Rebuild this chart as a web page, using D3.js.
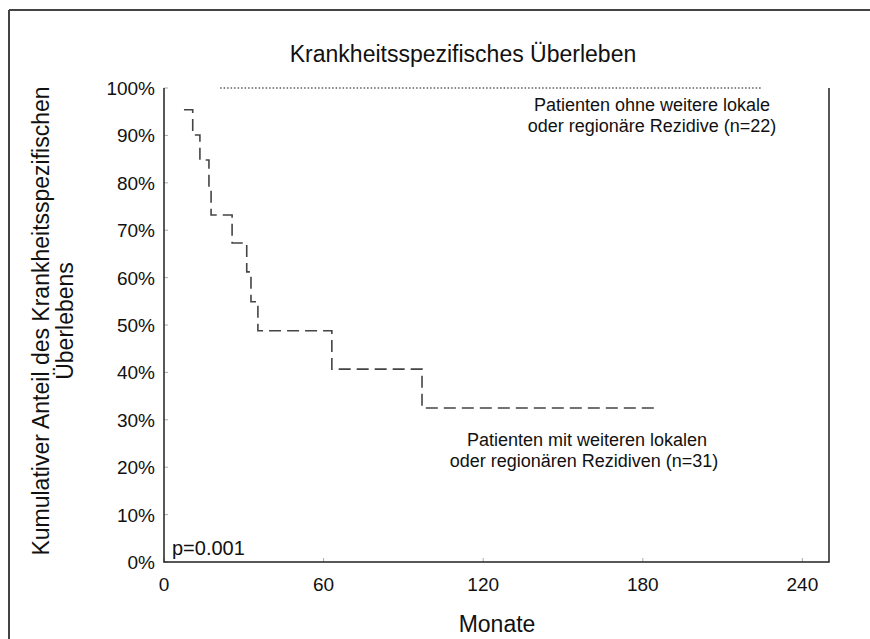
<!DOCTYPE html>
<html>
<head>
<meta charset="UTF-8" />
<title>Krankheitsspezifisches Überleben</title>
<script src="https://d3js.org/d3.v7.min.js"></script>
<style>
body { margin: 0; background: #fff; }
svg text { font-family: "Liberation Sans", Arial, sans-serif; fill: #111; }
</style>
</head>
<body>
<svg id="svg1" width="870" height="639"></svg>
<script>
// months / cumulative survival (%)
var stepMonths = [7.5, 10.8, 13.5, 16.9, 17.7, 25.6, 31.1, 32.7, 35.3, 63.1, 97.0, 185.5];
var stepSurvival = [95.4, 90.1, 84.8, 79.1, 73.2, 67.3, 61.2, 54.9, 48.8, 40.7, 32.5, 32.5];
var flatMonths = [21.1, 225];
var flatSurvival = [100, 100];
var xTicks = [0, 60, 120, 180, 240];
var yTicks = [0, 10, 20, 30, 40, 50, 60, 70, 80, 90, 100];

var svg = d3.select("#svg1");
var pLeft = 164, pRight = 829, pTop = 88, pBottom = 562;

var x = d3.scaleLinear().domain([0, 250]).range([pLeft, pRight]);
var y = d3.scaleLinear().domain([0, 100]).range([pBottom, pTop]);

// outer frame (only top + left visible)
svg.append("line").attr("x1", 9).attr("x2", 870).attr("y1", 10).attr("y2", 10)
    .attr("stroke", "#444").attr("stroke-width", 2);
svg.append("line").attr("x1", 9).attr("x2", 9).attr("y1", 10).attr("y2", 639)
    .attr("stroke", "#444").attr("stroke-width", 2);

// inner ticks
svg.append("g").selectAll("line").data(yTicks).enter().append("line")
    .attr("x1", pLeft).attr("x2", pLeft + 4)
    .attr("y1", function(d) { return y(d); }).attr("y2", function(d) { return y(d); })
    .attr("stroke", "#aaa");
svg.append("g").selectAll("line").data(xTicks).enter().append("line")
    .attr("x1", function(d) { return x(d); }).attr("x2", function(d) { return x(d); })
    .attr("y1", pBottom).attr("y2", pBottom - 4)
    .attr("stroke", "#aaa");

// axis frame: left, bottom, right
svg.append("path")
    .attr("d", "M" + pLeft + "," + pTop + "V" + pBottom + "H" + pRight + "V" + pTop)
    .attr("fill", "none").attr("stroke", "#222").attr("stroke-width", 1.5);

// tick labels
svg.append("g").selectAll("text").data(yTicks).enter().append("text")
    .attr("x", 155).attr("y", function(d) { return y(d) + 7; })
    .attr("text-anchor", "end").attr("font-size", 19)
    .text(function(d) { return d + "%"; });
svg.append("g").selectAll("text").data(xTicks).enter().append("text")
    .attr("x", function(d) { return x(d); }).attr("y", 591)
    .attr("text-anchor", "middle").attr("font-size", 19)
    .text(function(d) { return d; });

// curves
var line = d3.line()
    .x(function(d) { return x(d[0]); })
    .y(function(d) { return y(d[1]); })
    .curve(d3.curveStepAfter);

svg.append("path").datum(d3.zip(stepMonths, stepSurvival))
    .attr("d", line).attr("fill", "none")
    .attr("stroke", "#444").attr("stroke-width", 1.6)
    .attr("stroke-dasharray", "12,6");

svg.append("path").datum(d3.zip(flatMonths, flatSurvival))
    .attr("d", line).attr("fill", "none")
    .attr("stroke", "#111").attr("stroke-width", 1.2)
    .attr("stroke-dasharray", "1.5,2");

// titles
svg.append("text").attr("x", 463).attr("y", 62).attr("text-anchor", "middle")
    .attr("font-size", 23).text("Krankheitsspezifisches Überleben");
svg.append("text").attr("x", 497).attr("y", 632).attr("text-anchor", "middle")
    .attr("font-size", 23).text("Monate");
var yt = svg.append("text").attr("transform", "translate(49,321) rotate(-90)")
    .attr("text-anchor", "middle").attr("font-size", 23);
yt.append("tspan").attr("x", 0).attr("dy", 0).text("Kumulativer Anteil des Krankheitsspezifischen");
yt.append("tspan").attr("x", 0).attr("dy", 24).text("Überlebens");

// annotations
svg.append("text").attr("x", 652).attr("y", 111).attr("text-anchor", "middle")
    .attr("font-size", 18).text("Patienten ohne weitere lokale");
svg.append("text").attr("x", 652).attr("y", 132).attr("text-anchor", "middle")
    .attr("font-size", 18).text("oder regionäre Rezidive (n=22)");
svg.append("text").attr("x", 587).attr("y", 446).attr("text-anchor", "middle")
    .attr("font-size", 18).text("Patienten mit weiteren lokalen");
svg.append("text").attr("x", 584).attr("y", 467).attr("text-anchor", "middle")
    .attr("font-size", 18).text("oder regionären Rezidiven (n=31)");
svg.append("text").attr("x", 172).attr("y", 555)
    .attr("font-size", 20).text("p=0.001");
</script>
</body>
</html>
